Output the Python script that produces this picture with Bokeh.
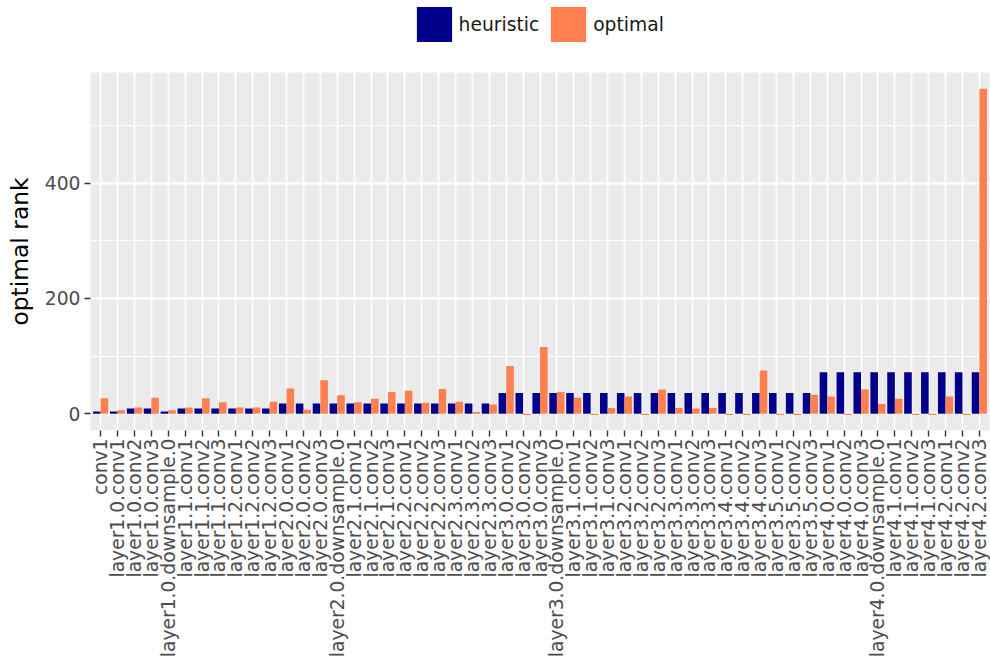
import math
from bokeh.plotting import figure
from bokeh.layouts import column
from bokeh.models import (ColumnDataSource, FactorRange, Range1d, FixedTicker,
                          Legend, LegendItem)
from bokeh.transform import dodge
from bokeh.embed import file_html
from bokeh.resources import INLINE

layers = [
    "conv1",
    "layer1.0.conv1", "layer1.0.conv2", "layer1.0.conv3", "layer1.0.downsample.0",
    "layer1.1.conv1", "layer1.1.conv2", "layer1.1.conv3",
    "layer1.2.conv1", "layer1.2.conv2", "layer1.2.conv3",
    "layer2.0.conv1", "layer2.0.conv2", "layer2.0.conv3", "layer2.0.downsample.0",
    "layer2.1.conv1", "layer2.1.conv2", "layer2.1.conv3",
    "layer2.2.conv1", "layer2.2.conv2", "layer2.2.conv3",
    "layer2.3.conv1", "layer2.3.conv2", "layer2.3.conv3",
    "layer3.0.conv1", "layer3.0.conv2", "layer3.0.conv3", "layer3.0.downsample.0",
    "layer3.1.conv1", "layer3.1.conv2", "layer3.1.conv3",
    "layer3.2.conv1", "layer3.2.conv2", "layer3.2.conv3",
    "layer3.3.conv1", "layer3.3.conv2", "layer3.3.conv3",
    "layer3.4.conv1", "layer3.4.conv2", "layer3.4.conv3",
    "layer3.5.conv1", "layer3.5.conv2", "layer3.5.conv3",
    "layer4.0.conv1", "layer4.0.conv2", "layer4.0.conv3", "layer4.0.downsample.0",
    "layer4.1.conv1", "layer4.1.conv2", "layer4.1.conv3",
    "layer4.2.conv1", "layer4.2.conv2", "layer4.2.conv3",
]

heuristic = [
    4,
    4, 9, 9, 4,
    9, 9, 9,
    9, 9, 9,
    18, 18, 18, 18,
    18, 18, 18,
    18, 18, 18,
    18, 18, 18,
    36, 36, 36, 36,
    36, 36, 36,
    36, 36, 36,
    36, 36, 36,
    36, 36, 36,
    36, 36, 36,
    72, 72, 72, 72,
    72, 72, 72,
    72, 72, 72,
]

optimal = [
    27,
    6, 11, 28, 6,
    11, 27, 20,
    11, 11, 21,
    44, 7, 58, 32,
    20, 26, 38,
    40, 19, 43,
    21, 3, 16,
    83, -2, 116, 38,
    28, -2, 10,
    30, -2, 42,
    10, 9, 10,
    -2, -2, 75,
    -2, -2, 33,
    30, -2, 42, 17,
    26, -2, -2,
    30, -2, 564,
]

series = ["heuristic", "optimal"]
colors = ["#00008B", "#FF7F50"]

y_ticks = [0, 200, 400]
y_minor = [100, 300, 500]

FONT = "DejaVu Sans"

src = ColumnDataSource(dict(layer=layers, heuristic=heuristic, optimal=optimal))

n = len(layers)
xr = FactorRange(factors=layers, range_padding=0.2 / n)
p = figure(
    x_range=xr,
    y_range=Range1d(-29, 592),
    width=990, height=599,
    output_backend="svg", toolbar_location=None,
    min_border_left=90, min_border_right=1,
    min_border_top=0, min_border_bottom=241,
)

offsets = [-0.225, 0.225]
for s, c, off in zip(series, colors, offsets):
    p.vbar(x=dodge("layer", off, range=xr), top=s, bottom=0,
           width=0.45, source=src, fill_color=c, line_color=None)

p.background_fill_color = "#EBEBEB"
p.border_fill_color = "white"
p.outline_line_color = None

p.xgrid.grid_line_color = "white"
p.xgrid.grid_line_width = 1.8
p.ygrid.grid_line_color = "white"
p.ygrid.grid_line_width = 1.8
p.ygrid.minor_grid_line_color = "white"
p.ygrid.minor_grid_line_width = 0.9

p.yaxis.ticker = FixedTicker(ticks=y_ticks, minor_ticks=y_minor)

for ax in (p.xaxis[0], p.yaxis[0]):
    ax.axis_line_color = None
    ax.major_tick_line_color = "#333333"
    ax.major_tick_line_width = 1.4
    ax.major_tick_out = 6
    ax.major_tick_in = 0
    ax.minor_tick_line_color = None
    ax.major_label_text_font = FONT
    ax.major_label_text_font_size = "18.7px"
    ax.major_label_text_color = "#4D4D4D"

p.xaxis.major_label_orientation = math.pi / 2
p.xaxis.major_label_standoff = 2
p.yaxis.major_label_standoff = 4

p.yaxis.axis_label = "optimal rank"
p.yaxis.axis_label_text_font = FONT
p.yaxis.axis_label_text_font_size = "23.4px"
p.yaxis.axis_label_text_font_style = "normal"
p.yaxis.axis_label_text_color = "#000000"
p.yaxis.axis_label_standoff = 8

# legend strip above the plot (its bars lie far outside its y range, so only the legend shows)
lg = figure(width=990, height=72, output_backend="svg", toolbar_location=None,
            x_range=xr, y_range=Range1d(5000, 5001),
            min_border=0)
lg.axis.visible = False
lg.grid.visible = False
lg.outline_line_color = None
lg.background_fill_color = "white"
lg.border_fill_color = "white"

items = []
for s, c, off in zip(series, colors, offsets):
    r = lg.vbar(x=dodge("layer", off, range=xr), top=s, bottom=0,
                width=0.45, source=src, fill_color=c, line_color=None)
    items.append(LegendItem(label=s, renderers=[r]))

legend = Legend(
    items=items,
    orientation="horizontal",
    location=(321.6, 25.9),
    glyph_width=44, glyph_height=44,
    label_standoff=3, spacing=7,
    padding=0, margin=0,
    border_line_color=None, background_fill_alpha=0,
    label_text_font=FONT, label_text_font_size="18.7px",
    label_text_color="#1A1A1A",
)
lg.add_layout(legend, "center")

layout = column(lg, p, spacing=0)

open("out.html", "w").write(file_html(layout, INLINE))
